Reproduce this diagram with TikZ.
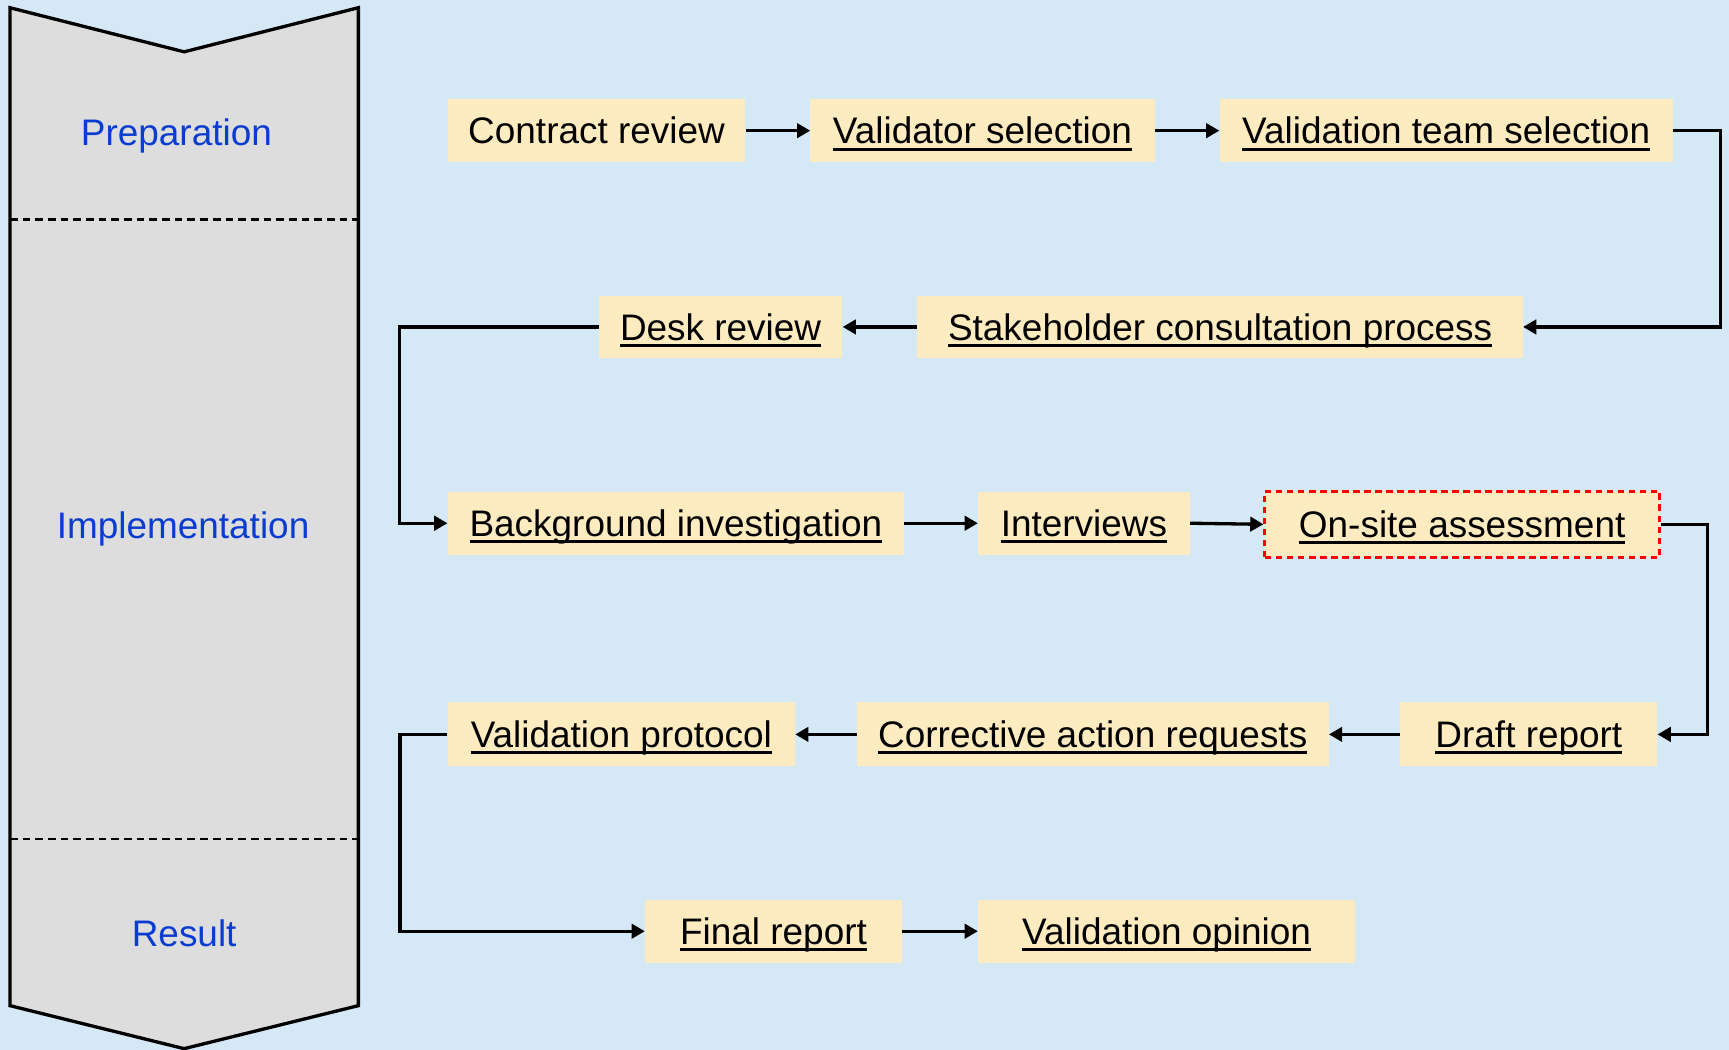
\documentclass[tikz,border=0pt]{standalone}
\usepackage{fontspec}
\setmainfont{Liberation Sans}
\usetikzlibrary{arrows.meta}
\definecolor{bgblue}{RGB}{213,232,246}
\definecolor{chevgray}{RGB}{221,221,221}
\definecolor{boxfill}{RGB}{255,235,192}
\definecolor{lblblue}{RGB}{10,60,208}
\newcommand\myuline[1]{\setbox0\hbox{#1}\rlap{\rule[-6pt]{\wd0}{2.5pt}}\box0}
\tikzset{
  stepbox/.style={fill=boxfill, inner sep=0pt, minimum height=57pt, text height=24pt, text depth=0pt,
    font=\fontsize{33.5}{40}\selectfont, align=center},
  phase/.style={text=lblblue, font=\fontsize{33.5}{40}\selectfont, inner sep=0pt, text height=24pt, text depth=0pt},
  conn/.style={line width=3pt, -{Triangle[length=12pt,width=13pt]}},
  sep/.style={line width=2pt, dash pattern=on 7pt off 4.5pt},
}
\begin{document}
\begin{tikzpicture}[x=1pt,y=-1pt]
\fill[bgblue] (0,0) rectangle (1568,952);
\useasboundingbox (0,0) rectangle (1568,952);
% chevron
\draw[fill=chevgray, line width=3pt, line join=miter] (9,7) -- (167,47) -- (325,7) -- (325,912) -- (167,951) -- (9,912) -- cycle;
\draw[sep] (9,199) -- (325,199);
\draw[sep] (9,761) -- (325,761);
\node[phase] (prep) at (160,119.5) {Preparation};
\node[phase] (impl) at (166,476) {Implementation};
\node[phase] (res) at (167,846) {Result};
% boxes
\node[stepbox, minimum width=270pt] (contract) at (541,118.5) {Contract review};
\node[stepbox, minimum width=312pt] (validator) at (891,118.5) {\myuline{Validator selection}};
\node[stepbox, minimum width=411pt] (team) at (1311.5,118.5) {\myuline{Validation team selection}};
\node[stepbox, minimum width=221pt] (desk) at (653.5,296.5) {\myuline{Desk review}};
\node[stepbox, minimum width=549pt] (stake) at (1106.5,296.5) {\myuline{Stakeholder consultation process}};
\node[stepbox, minimum width=414pt] (background) at (613,474.5) {\myuline{Background investigation}};
\node[stepbox, minimum width=192pt] (interviews) at (983,474.5) {\myuline{Interviews}};
\node[stepbox, minimum width=358pt, minimum height=60pt, draw=red, line width=2.4pt, dash pattern=on 6pt off 4pt] (onsite) at (1326,475.5) {\myuline{On-site assessment}};
\node[stepbox, minimum width=315pt, minimum height=58pt] (protocol) at (563.5,666) {\myuline{Validation protocol}};
\node[stepbox, minimum width=428pt, minimum height=58pt] (corrective) at (991,666) {\myuline{Corrective action requests}};
\node[stepbox, minimum width=233pt, minimum height=58pt] (draft) at (1386.5,666) {\myuline{Draft report}};
\node[stepbox, minimum width=233pt] (final) at (701.5,844.5) {\myuline{Final report}};
\node[stepbox, minimum width=342pt] (opinion) at (1058,844.5) {\myuline{Validation opinion}};
% connectors
\draw[conn] (contract.east) -- (validator.west);
\draw[conn] (validator.east) -- (team.west);
\draw[conn] (team.east) -- ++(43,0) |- (stake.east);
\draw[conn] (stake.west) -- (desk.east);
\draw[conn] (desk.west) -- ++(-180.5,0) |- (background.west);
\draw[conn] (background.east) -- (interviews.west);
\draw[conn] (interviews.east) -- (onsite.west);
\draw[conn] (onsite.east) -- ++(42,0) |- (draft.east);
\draw[conn] (draft.west) -- (corrective.east);
\draw[conn] (corrective.west) -- (protocol.east);
\draw[conn] (protocol.west) -- ++(-43,0) |- (final.west);
\draw[conn] (final.east) -- (opinion.west);
\end{tikzpicture}
\end{document}
